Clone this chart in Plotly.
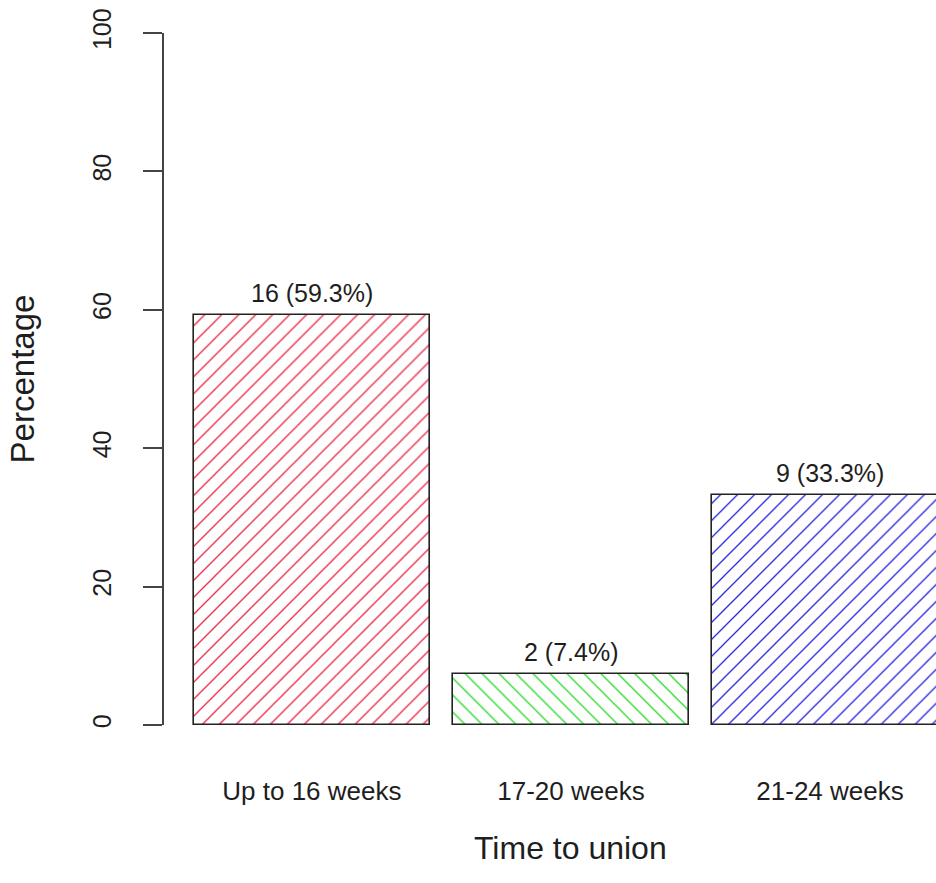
import plotly.graph_objects as go

# Time-to-union groups, counts and percentages
categories = ["Up to 16 weeks", "17-20 weeks", "21-24 weeks"]
counts = [16, 2, 9]
percentages = [59.3, 7.4, 33.3]
bar_positions = [0.6, 1.7, 2.8]
hatch_shapes = ["/", "\\", "/"]
hatch_colors = ["rgb(235,40,70)", "rgb(40,220,40)", "rgb(40,40,220)"]
y_ticks = [0, 20, 40, 60, 80, 100]

FONT = "Liberation Sans, Arial, sans-serif"
INK = "#1e1e1e"

fig = go.Figure()

for pos, pct, shp, col in zip(bar_positions, percentages, hatch_shapes, hatch_colors):
    fig.add_trace(go.Bar(
        x=[pos], y=[pct], width=[1.0],
        marker=dict(
            color="white",
            line=dict(color="#222222", width=1.6),
            pattern=dict(shape=shp, fgcolor=col, bgcolor="white",
                         size=12, solidity=0.11, fillmode="replace"),
        ),
        showlegend=False, hoverinfo="skip",
    ))

# value labels above the bars
for pos, n, pct in zip(bar_positions, counts, percentages):
    fig.add_annotation(
        x=pos, y=pct, xref="x", yref="y",
        text=f"{n} ({pct}%)", showarrow=False,
        yanchor="bottom", yshift=6,
        font=dict(family=FONT, size=25, color=INK),
    )

# x-axis title centred on the plotting region
fig.add_annotation(
    x=1.7, y=-0.178, xref="x", yref="paper",
    text="Time to union", showarrow=False,
    yanchor="middle",
    font=dict(family=FONT, size=32, color=INK),
)

fig.update_layout(
    width=936, height=883,
    margin=dict(l=164, r=0, t=33, b=158),
    paper_bgcolor="white", plot_bgcolor="white",
    bargap=0,
    xaxis=dict(
        range=[-0.028, 3.25],
        tickmode="array", tickvals=bar_positions, ticktext=categories,
        showline=False, showgrid=False, zeroline=False, ticks="",
        tickfont=dict(family=FONT, size=26, color=INK),
        ticklabelstandoff=48,
        automargin=False,
    ),
    yaxis=dict(
        range=[0, 100],
        tickmode="array", tickvals=y_ticks,
        showline=True, linecolor="#444444", linewidth=1.8,
        ticks="outside", ticklen=19, tickcolor="#444444", tickwidth=1.8,
        showgrid=False, zeroline=False,
        tickangle=-90,
        tickfont=dict(family=FONT, size=25, color=INK),
        ticklabelstandoff=22,
        title=dict(text="Percentage", standoff=44,
                   font=dict(family=FONT, size=33, color=INK)),
        automargin=False,
    ),
)

fig.write_html("out.html")
